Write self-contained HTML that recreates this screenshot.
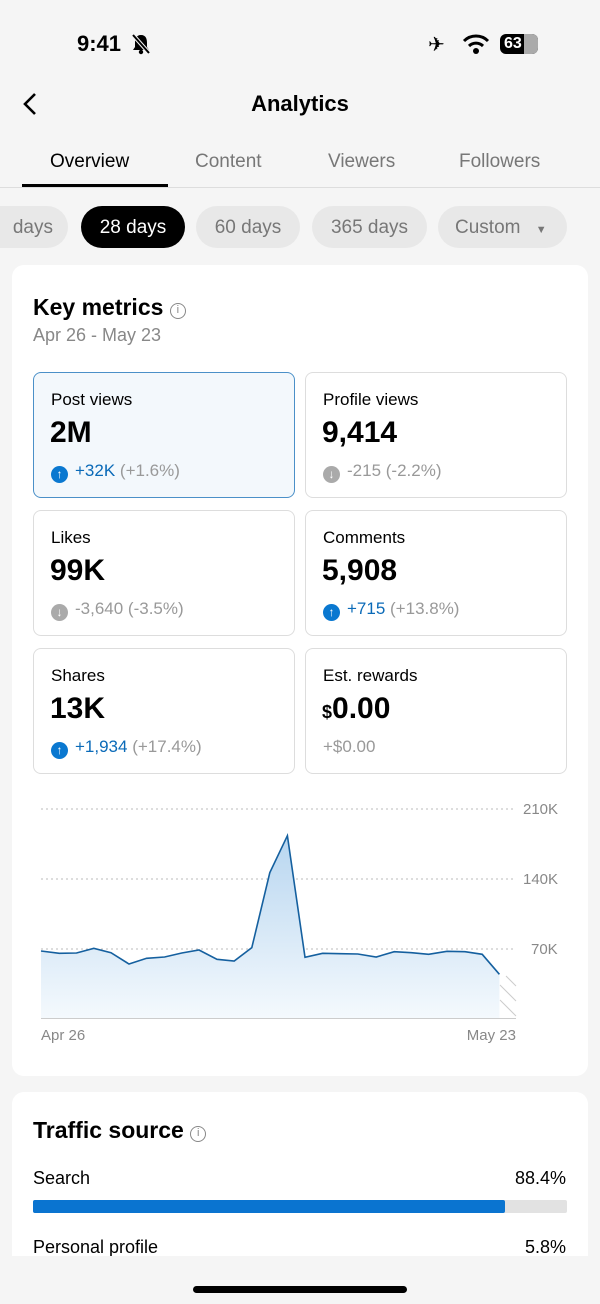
<!DOCTYPE html>
<html><head><meta charset="utf-8"><style>
*{margin:0;padding:0;box-sizing:border-box}
body{width:600px;height:1304px;background:#f5f5f5;font-family:"Liberation Sans",sans-serif;position:relative;overflow:hidden;color:#000}
.a{position:absolute;white-space:nowrap}
.card{position:absolute;background:#fff;border-radius:12px}
.m{position:absolute;width:262px;height:126px;border:1px solid #ddd;border-radius:8px;background:#fff}
.m .l{position:absolute;left:17px;top:17px;font-size:17px}
.m .v{position:absolute;left:16px;top:43px;font-size:30px;font-weight:bold}
.m .c{position:absolute;left:17px;top:88px;font-size:17px;color:#999}
.ic{display:inline-block;width:17px;height:17px;border-radius:50%;color:#fff;font-size:12px;text-align:center;line-height:17px;vertical-align:-2px;margin-right:7px;font-weight:bold}
.pill{position:absolute;top:206px;height:42px;border-radius:21px;background:#e8e8e8;color:#777;font-size:19px;line-height:43px;text-align:center}
.tab{position:absolute;top:151px;font-size:19px;color:#777}
</style></head><body>
<div class="a" style="left:77px;top:31px;font-size:22px;font-weight:bold">9:41</div>
<svg class="a" style="left:130px;top:33px" width="22" height="22" viewBox="0 0 22 22"><path d="M11 2 C6 2 5 6 5 10 L5 14 L3 17 L19 17 L17 14 L17 10 C17 6 16 2 11 2Z" fill="#000"/><circle cx="11" cy="19" r="2.2"/><line x1="3" y1="2" x2="19" y2="20" stroke="#f5f5f5" stroke-width="4"/><line x1="3" y1="2" x2="19" y2="20" stroke="#000" stroke-width="2"/></svg>
<div class="a" style="left:428px;top:32px;font-size:20px">✈</div>
<svg class="a" style="left:462px;top:33px" width="28" height="22" viewBox="0 0 28 22"><path d="M2 8 A17 17 0 0 1 26 8" stroke="#000" stroke-width="3" fill="none"/><path d="M7 13 A10 10 0 0 1 21 13" stroke="#000" stroke-width="3" fill="none"/><circle cx="14" cy="18" r="3"/></svg>
<div class="a" style="left:500px;top:34px;width:38px;height:20px;border-radius:6px;background:#000;color:#fff;font-size:16px;font-weight:bold;line-height:20px;padding-left:4px">63</div>
<div class="a" style="left:524px;top:34px;width:14px;height:20px;background:#aaa;border-radius:0 6px 6px 0"></div>
<svg class="a" style="left:20px;top:91px" width="20" height="26"><path d="M15 3 L5 13 L15 23" stroke="#000" stroke-width="2.6" fill="none"/></svg>
<div class="a" style="left:0;width:600px;text-align:center;top:91px;font-size:22px;font-weight:bold">Analytics</div>
<div class="tab" style="left:50px;color:#000">Overview</div>
<div class="tab" style="left:195px">Content</div>
<div class="tab" style="left:328px">Viewers</div>
<div class="tab" style="left:459px">Followers</div>
<div class="a" style="left:0;top:187px;width:600px;height:1px;background:#ddd"></div>
<div class="a" style="left:22px;top:184px;width:146px;height:3px;background:#000"></div>
<div class="pill" style="left:-20px;width:88px;text-align:right;padding-right:15px">days</div>
<div class="pill" style="left:81px;width:104px;background:#000;color:#fff">28 days</div>
<div class="pill" style="left:196px;width:104px">60 days</div>
<div class="pill" style="left:312px;width:115px">365 days</div>
<div class="pill" style="left:438px;width:129px;text-align:left;padding-left:17px">Custom <span style="font-size:11px;margin-left:10px">▼</span></div>

<div class="card" style="left:12px;top:265px;width:576px;height:811px"></div>
<div class="a" style="left:33px;top:294px;font-size:23px;font-weight:bold">Key metrics <span style="display:inline-block;width:16px;height:16px;border:1.5px solid #888;border-radius:50%;font-size:11px;color:#888;text-align:center;line-height:13px;font-weight:normal;vertical-align:2px">i</span></div>
<div class="a" style="left:33px;top:325px;font-size:18px;color:#888">Apr 26 - May 23</div>

<div class="m" style="left:33px;top:372px;background:#f3f8fc;border-color:#4b90c8"><div class="l">Post views</div><div class="v">2M</div><div class="c"><span class="ic" style="background:#0a78d0">↑</span><span style="color:#0a6ab8">+32K</span> (+1.6%)</div></div>
<div class="m" style="left:305px;top:372px"><div class="l">Profile views</div><div class="v">9,414</div><div class="c"><span class="ic" style="background:#aaa">↓</span>-215 (-2.2%)</div></div>
<div class="m" style="left:33px;top:510px"><div class="l">Likes</div><div class="v">99K</div><div class="c"><span class="ic" style="background:#aaa">↓</span>-3,640 (-3.5%)</div></div>
<div class="m" style="left:305px;top:510px"><div class="l">Comments</div><div class="v">5,908</div><div class="c"><span class="ic" style="background:#0a78d0">↑</span><span style="color:#0a6ab8">+715</span> (+13.8%)</div></div>
<div class="m" style="left:33px;top:648px"><div class="l">Shares</div><div class="v">13K</div><div class="c"><span class="ic" style="background:#0a78d0">↑</span><span style="color:#0a6ab8">+1,934</span> (+17.4%)</div></div>
<div class="m" style="left:305px;top:648px"><div class="l">Est. rewards</div><div class="v"><span style="font-size:18px">$</span>0.00</div><div class="c">+$0.00</div></div>

<svg class="a" style="left:0;top:780px" width="600" height="280">
<defs><linearGradient id="g" x1="0" y1="0" x2="0" y2="1"><stop offset="0" stop-color="#b8d6f0"/><stop offset="1" stop-color="#f4f9fd"/></linearGradient></defs>
<g stroke="#bbb" stroke-dasharray="2,3" stroke-width="1"><line x1="41" y1="29" x2="516" y2="29"/><line x1="41" y1="99" x2="516" y2="99"/><line x1="41" y1="169" x2="516" y2="169"/></g>
<polygon fill="url(#g)" points="41,171 59.3,173.3 76.5,173 93.8,168.3 111,172.7 129,184 146.6,178.3 164.6,177 181.8,173 199,170 217,179.3 234.2,181 251.8,167.7 269.8,92.7 287.4,55.7 305,177.3 322.6,173.3 340.6,173.7 357.8,174 376.2,177 394.2,171.7 411.4,172.7 428.6,174.3 447,171.3 465,171.7 482.2,174.3 499.4,194.3 499.4,238 41,238"/>
<polyline fill="none" stroke="#15609f" stroke-width="1.6" points="41,171 59.3,173.3 76.5,173 93.8,168.3 111,172.7 129,184 146.6,178.3 164.6,177 181.8,173 199,170 217,179.3 234.2,181 251.8,167.7 269.8,92.7 287.4,55.7 305,177.3 322.6,173.3 340.6,173.7 357.8,174 376.2,177 394.2,171.7 411.4,172.7 428.6,174.3 447,171.3 465,171.7 482.2,174.3 499.4,194.3"/>
<g stroke="#ccc" stroke-width="1"><line x1="506" y1="196" x2="516" y2="206"/><line x1="500" y1="205" x2="516" y2="221"/><line x1="500" y1="220" x2="516" y2="236"/></g>
<line x1="41" y1="238.5" x2="516" y2="238.5" stroke="#ccc"/>
<g font-size="15" fill="#888" font-family="Liberation Sans"><text x="523" y="34">210K</text><text x="523" y="104">140K</text><text x="531" y="174">70K</text><text x="41" y="260">Apr 26</text><text x="516" y="260" text-anchor="end">May 23</text></g>
</svg>

<div class="card" style="left:12px;top:1092px;width:576px;height:200px"></div>
<div class="a" style="left:33px;top:1117px;font-size:23px;font-weight:bold">Traffic source <span style="display:inline-block;width:16px;height:16px;border:1.5px solid #888;border-radius:50%;font-size:11px;color:#888;text-align:center;line-height:13px;font-weight:normal;vertical-align:2px">i</span></div>
<div class="a" style="left:33px;top:1168px;font-size:18px">Search</div>
<div class="a" style="right:34px;top:1168px;font-size:18px">88.4%</div>
<div class="a" style="left:33px;top:1200px;width:534px;height:13px;background:#e2e2e2;border-radius:2px"></div>
<div class="a" style="left:33px;top:1200px;width:472px;height:13px;background:#0a74d0;border-radius:2px"></div>
<div class="a" style="left:33px;top:1237px;font-size:18px">Personal profile</div>
<div class="a" style="right:34px;top:1237px;font-size:18px">5.8%</div>
<div class="a" style="left:0;top:1256px;width:600px;height:48px;background:#f5f5f5"></div>
<div class="a" style="left:193px;top:1286px;width:214px;height:7px;border-radius:4px;background:#000"></div>
</body></html>
